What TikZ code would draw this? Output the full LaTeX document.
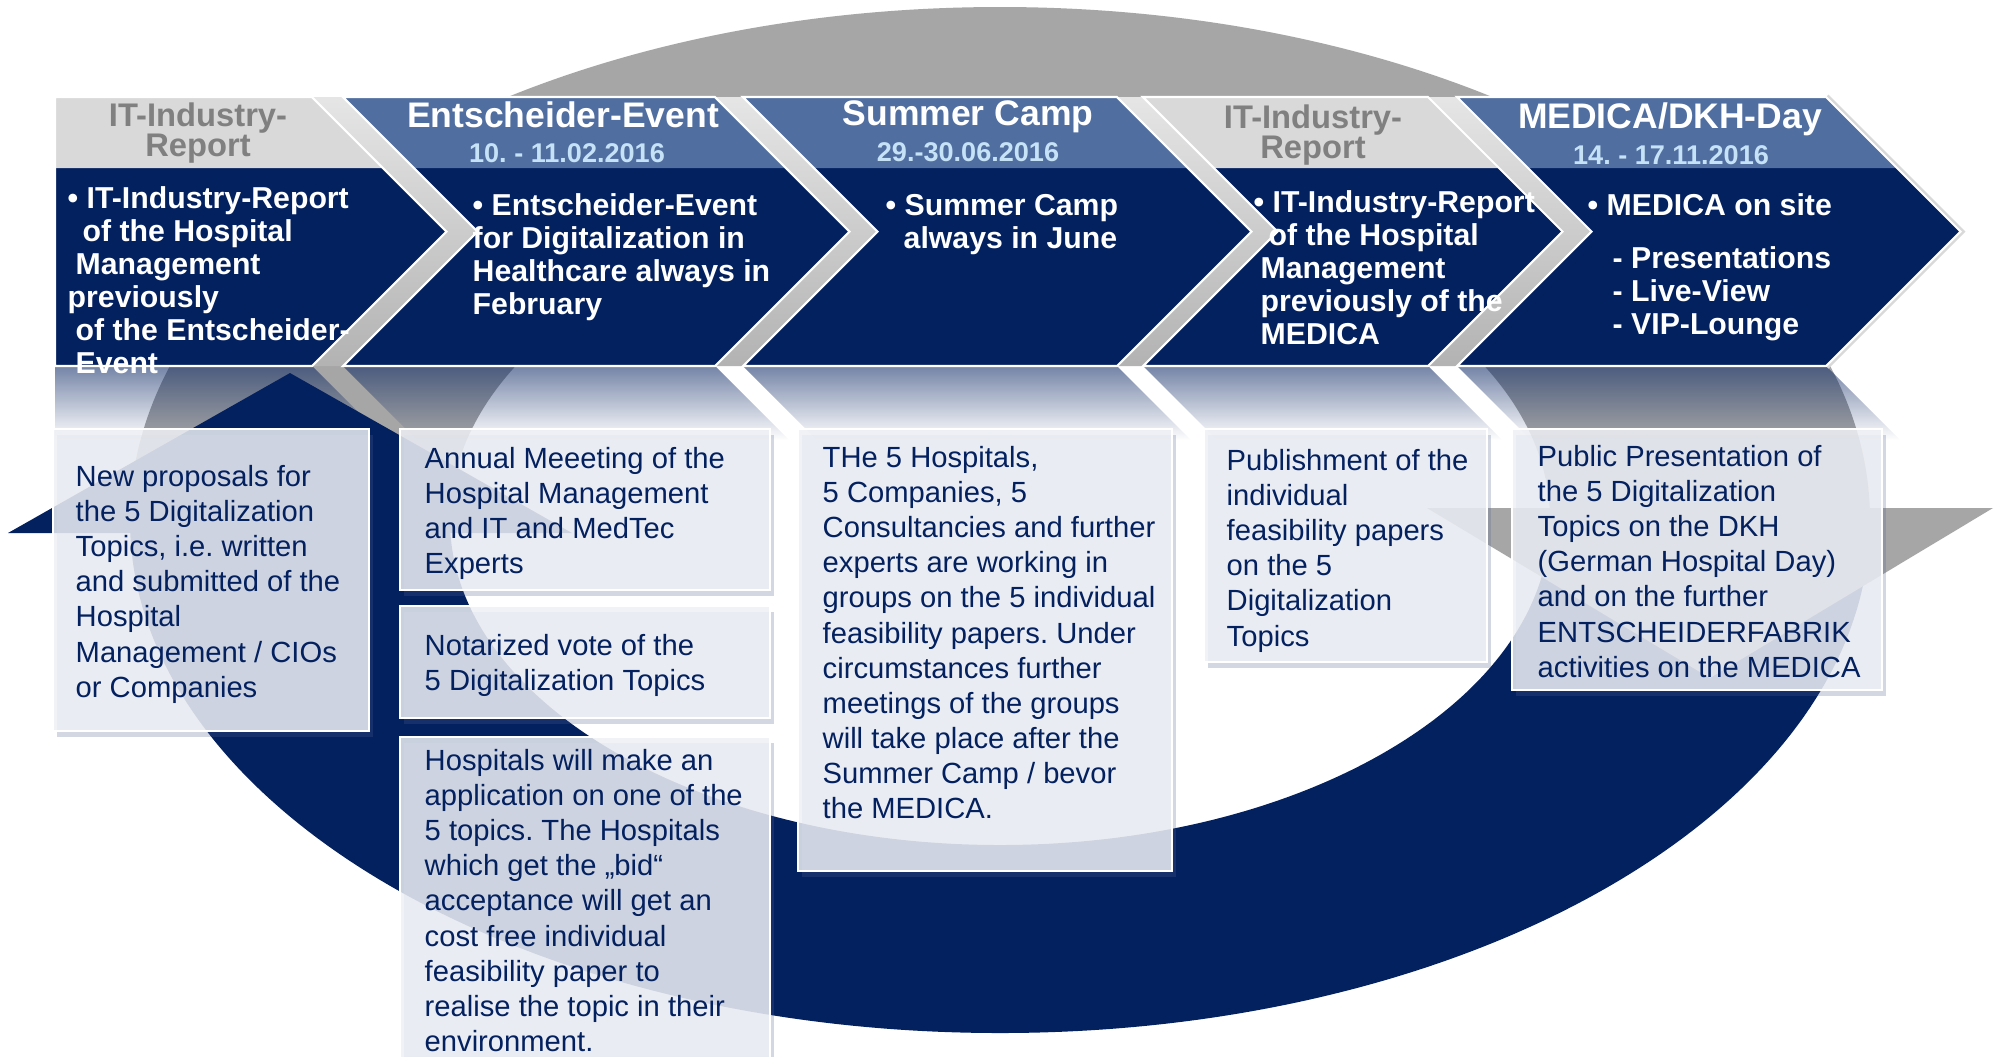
\documentclass[tikz,border=0pt]{standalone}
\usepackage{fontspec}
\setmainfont{Liberation Sans}
\usepackage{xcolor}
\usepackage{tikz}
\usetikzlibrary{shadows,fadings}
\frenchspacing

\definecolor{navy}{HTML}{03205F}
\definecolor{headblue}{HTML}{506EA0}
\definecolor{headgray}{HTML}{D9D9D9}
\definecolor{ringgray}{HTML}{A6A6A6}
\definecolor{datecol}{HTML}{C6E2F7}
\definecolor{boxfill}{HTML}{EEF0F5}

\tikzfading[name=mirror, top color=transparent!45, bottom color=transparent!100]

\begin{document}
\begin{tikzpicture}[x=0.01cm, y=-0.01cm,
    headtitle/.style={font=\bfseries\fontsize{10.1}{11}\selectfont, text=white, inner sep=0, anchor=base},
    headdate/.style={font=\bfseries\fontsize{7.7}{9}\selectfont, text=datecol, inner sep=0, anchor=base},
    grayhead/.style={font=\bfseries\fontsize{9.3}{8.5}\selectfont, text=gray, inner sep=0, anchor=north, align=center},
    chevtext/.style={font=\bfseries\fontsize{8.6}{9.39}\selectfont, text=white, inner sep=0, anchor=north west, align=left},
    infobox/.style={fill=boxfill, fill opacity=0.85, draw=white, line width=0.6pt,
      drop shadow={shadow xshift=1.2pt, shadow yshift=-1.8pt, fill=navy!70, opacity=0.25}},
    boxtext/.style={font=\fontsize{8.3}{9.96}\selectfont, text=navy, inner sep=0, anchor=north west, align=left}]
      \useasboundingbox (0,0) rectangle (1996,1056);
      \clip (0,0) rectangle (1996,1056);
      \fill[white] (0,0) rectangle (1996,1056);
      \fill[navy] (1870,520) arc[start angle=0, end angle=180, x radius=870, y radius=513]
        -- (450,520) arc[start angle=180, end angle=0, x radius=550, y radius=325] -- cycle;
      \fill[ringgray] (1870,520) arc[start angle=360, end angle=180, x radius=870, y radius=513]
        -- (450,520) arc[start angle=180, end angle=360, x radius=550, y radius=325] -- cycle;
      \fill[navy] (8,533) -- (290,373) -- (572,533) -- cycle;
      \fill[ringgray] (1427,508) -- (1993,508) -- (1710,678) -- cycle;
      \fill[navy, path fading=mirror] (55,366) -- (312,366) -- (386,440) -- (55,440) -- cycle;
      \foreach \l/\r in {343/715, 743/1117, 1143/1428, 1457/1826}
        \fill[navy, path fading=mirror] (\l,366) -- (\r,366) -- ({\r+74},440) -- ({\l+74},440) -- cycle;
      \foreach \r/\l in {312/343, 715/743, 1117/1143, 1428/1457}
        \shade[top color=gray!20, bottom color=gray!60] (\r,97) -- (\l,97) -- ({\l+134.5},231.5)
          -- (\l,366) -- (\r,366) -- ({\r+134.5},231.5) -- cycle;
      \draw[gray!30, line width=2pt] (1826,97) -- (1960.5,231.5) -- (1826,366);
      \fill[navy] (55,97) -- (312,97) -- (446.5,231.5) -- (312,366) -- (55,366) -- cycle;
      \fill[headgray] (55,97) -- (312,97) -- (383,168) -- (55,168) -- cycle;
      \draw[white, line width=0.6pt] (55,97) -- (312,97) -- (446.5,231.5) -- (312,366) -- (55,366) -- cycle;
      \foreach \l/\r/\hc in {343/715/headblue, 743/1117/headblue, 1143/1428/headgray, 1457/1826/headblue} {
        \fill[navy] (\l,97) -- (\r,97) -- ({\r+134.5},231.5) -- (\r,366) -- (\l,366) -- ({\l+134.5},231.5) -- cycle;
        \fill[\hc] (\l,97) -- (\r,97) -- ({\r+71},168) -- ({\l+71},168) -- cycle;
        \draw[white, line width=0.6pt] (\l,97) -- (\r,97) -- ({\r+134.5},231.5) -- (\r,366) -- (\l,366) -- ({\l+134.5},231.5) -- cycle;
      }
      \node[grayhead] (h1) at (198,102) {IT-Industry-\\Report};
      \node[headtitle] (h2) at (563,127) {Entscheider-Event};
      \node[headdate] (d2) at (567,162) {10. - 11.02.2016};
      \node[headtitle] (h3) at (968,125) {Summer Camp};
      \node[headdate] (d3) at (968,161) {29.-30.06.2016};
      \node[grayhead] (h4) at (1313,104) {IT-Industry-\\Report};
      \node[headtitle] (h5) at (1670,128) {MEDICA/DKH-Day};
      \node[headdate] (d5) at (1671,164) {14. - 17.11.2016};
      \node[chevtext] (t1) at (67,186) {• IT-Industry-Report\\\hspace*{0.15cm}of the Hospital\\\hspace*{0.08cm}Management\\previously\\\hspace*{0.08cm}of the Entscheider-\\\hspace*{0.08cm}Event};
      \node[chevtext] (t2) at (472,193) {• Entscheider-Event\\for Digitalization in\\Healthcare always in\\February};
      \node[chevtext] (t3) at (885,194) {• Summer Camp\\\hspace*{0.18cm}always in June};
      \node[chevtext] (t4) at (1253,190) {• IT-Industry-Report\\\hspace*{0.15cm}of the Hospital\\\hspace*{0.07cm}Management\\\hspace*{0.07cm}previously of the\\\hspace*{0.07cm}MEDICA};
      \node[chevtext] (t5) at (1587,193) {• MEDICA on site\\[0.2cm]\hspace*{0.25cm}- Presentations\\\hspace*{0.25cm}- Live-View\\\hspace*{0.25cm}- VIP-Lounge};
      \draw[infobox] (53,429) rectangle (369,731);
      \draw[infobox] (400,429) rectangle (770,590);
      \draw[infobox] (400,606) rectangle (770,718);
      \draw[infobox] (400,737) rectangle (770,1070);
      \draw[infobox] (798,429) rectangle (1172,871);
      \draw[infobox] (1204,429) rectangle (1487,662);
      \draw[infobox] (1512,429) rectangle (1882,690);
      \node[boxtext] (b1) at (75,465) {New proposals for\\the 5 Digitalization\\Topics, i.e. written\\and submitted of the\\Hospital\\Management / CIOs\\or Companies};
      \node[boxtext] (b2) at (424,447) {Annual Meeeting of the\\Hospital Management\\and IT and MedTec\\Experts};
      \node[boxtext] (b3) at (424,634) {Notarized vote of the\\5 Digitalization Topics};
      \node[boxtext] (b4) at (424,749) {Hospitals will make an\\application on one of the\\5 topics. The Hospitals\\which get the „bid“\\acceptance will get an\\cost free individual\\feasibility paper to\\realise the topic in their\\environment.};
      \node[boxtext] (b5) at (822,446) {THe 5 Hospitals,\\5 Companies, 5\\Consultancies and further\\experts are working in\\groups on the 5 individual\\feasibility papers. Under\\circumstances further\\meetings of the groups\\will take place after the\\Summer Camp / bevor\\the MEDICA.};
      \node[boxtext] (b6) at (1226,449) {Publishment of the\\individual\\feasibility papers\\on the 5\\Digitalization\\Topics};
      \node[boxtext] (b7) at (1537,445) {Public Presentation of\\the 5 Digitalization\\Topics on the DKH\\(German Hospital Day)\\and on the further\\ENTSCHEIDERFABRIK\\activities on the MEDICA};
    \end{tikzpicture}
\end{document}
